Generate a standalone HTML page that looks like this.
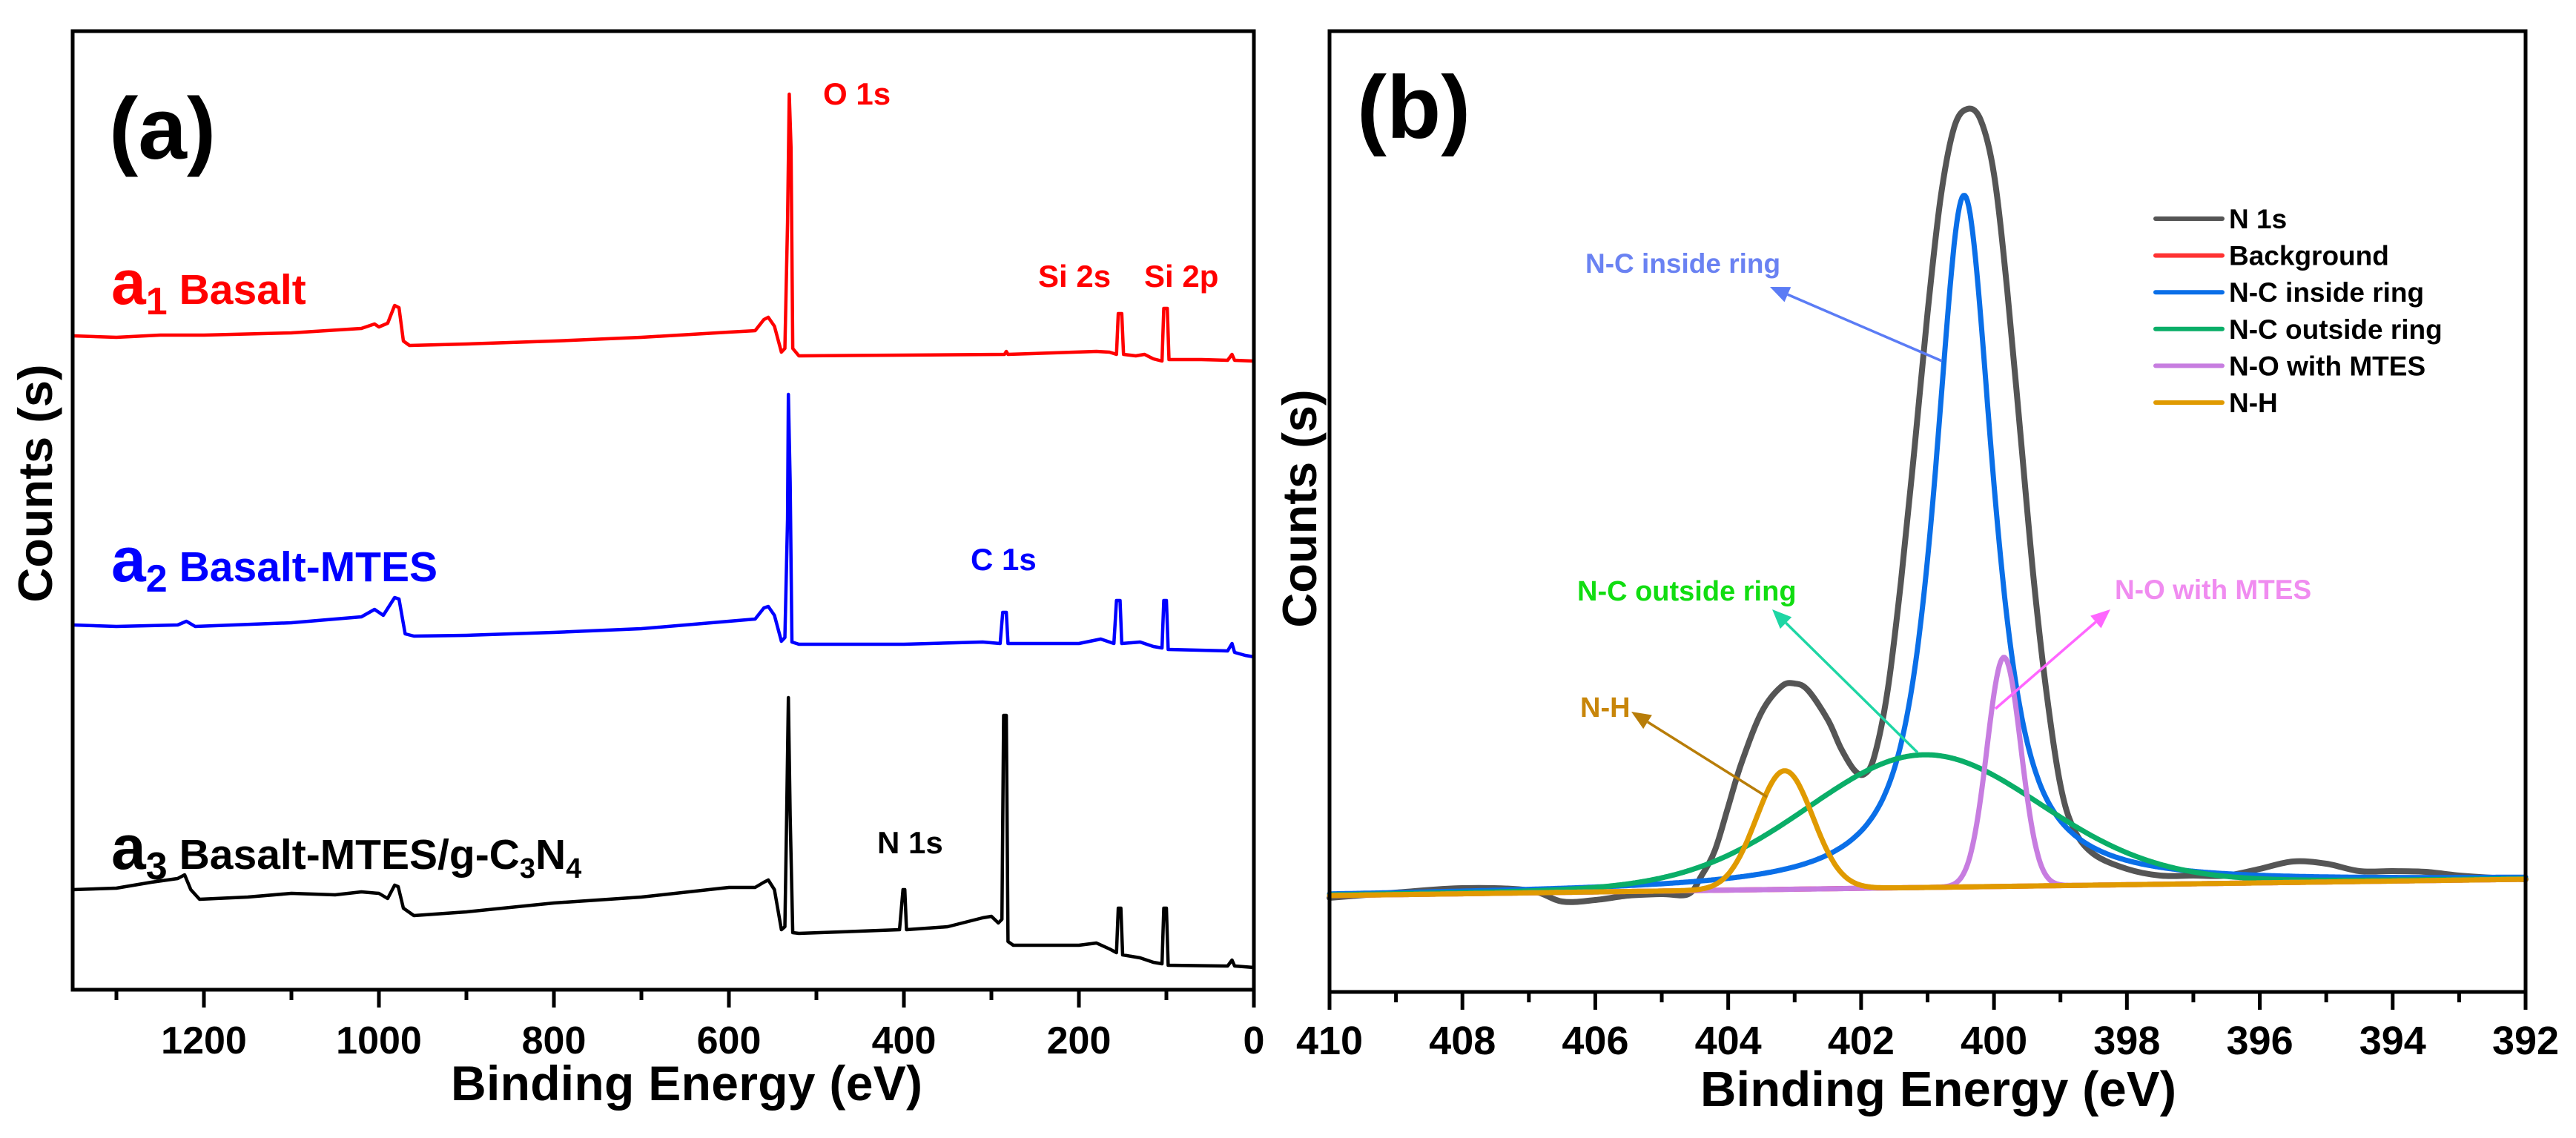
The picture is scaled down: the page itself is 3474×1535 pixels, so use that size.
<!DOCTYPE html>
<html><head><meta charset="utf-8"><style>
html,body{margin:0;padding:0;background:#fff;}
svg{display:block;font-family:"Liberation Sans",Arial,sans-serif;font-weight:bold;}
</style></head><body>
<svg id="fig" width="3474" height="1535" viewBox="0 0 3474 1535" xmlns="http://www.w3.org/2000/svg">
<g id="panelA"></g>
<g id="panelB"></g>
</svg>
<script>
// ---------- Panel (a) data: survey spectra, [binding energy eV, counts (a.u.)] ----------
const basaltEV = [1350,1300,1250,1200,1100,1020,1005,1000,990,982,977,972,965,900,800,700,600,570,560,555,548,540,536,533,531,529,527,520,400,285,283,281,180,165,157,155,151,149,135,125,115,105,103,99,97,60,30,25,22,0];
const basaltCounts = [882,880,883,883,886,892,898,894,899,923,920,875,869,871,875,880,887,889,904,907,895,860,865,1035,1208,1135,865,855,856,857,861,857,861,860,857,912,912,857,855,857,851,848,919,919,850,850,849,857,849,848];
const mtesEV = [1350,1300,1230,1220,1210,1100,1020,1005,995,982,977,970,960,900,800,700,600,570,560,555,548,540,536,533,532,530,528,520,400,310,290,287,283,281,200,175,160,157,153,151,130,115,105,103,100,98,30,25,22,10,0];
const mtesCounts = [492,490,492,497,490,495,503,513,505,529,527,480,477,478,482,487,497,500,515,517,505,470,475,635,803,685,469,466,466,469,467,509,509,467,467,473,467,525,525,467,469,463,461,525,525,459,457,467,455,451,449];
const gcnEV = [1350,1300,1260,1230,1222,1215,1205,1150,1100,1050,1020,1000,990,982,978,972,960,900,800,700,600,570,560,555,548,540,536,534,532,530,527,520,450,405,401,399,397,350,310,300,292,288,286,283,281,275,200,180,165,157,155,152,150,130,115,105,103,100,98,30,25,22,0];
const gcnCounts = [135,137,145,150,155,135,122,125,130,128,132,130,123,141,139,110,100,105,117,125,138,138,145,148,135,81,85,235,394,235,77,76,79,81,135,135,81,85,97,99,90,95,370,370,65,60,60,63,55,50,110,110,47,43,37,35,110,110,33,32,40,32,30];
const aMajorTicks = [1200,1000,800,600,400,200,0];
const aMinorTicks = [1300,1100,900,700,500,300,100];

// ---------- Panel (b) data: N 1s high resolution ----------
const n1sEV = [410,409,408,407,406.5,406,405.5,405,404.6,404.4,404.2,404,403.8,403.5,403.2,403,402.8,402.5,402.3,402.1,401.95,401.8,401.6,401.4,401.2,401,400.8,400.6,400.4,400.2,400,399.8,399.6,399.4,399.2,399,398.8,398.5,398,397.5,397,396.5,396,395.5,395,394.5,394,393.5,393,392.5,392];
const n1sCounts = [127,134,140,137,122,124,130,132,132,157,191,250,309,377,412,416,407,367,328,299,294,318,407,554,730,916,1073,1166,1191,1176,1103,946,750,554,397,279,220,186,166,157,157,157,166,176,173,163,163,162,157,154,152];
const bgEV = [410,392];
const bgCounts = [130,152];
const compNames = ["N-C inside ring","N-C outside ring","N-O with MTES","N-H"];
const compCenters = [400.45,401.05,399.85,403.15];
const compHeights = [933,179,309,160];
const compFWHM = [1.05,4.2,0.6,1.0];
const compLorentz = [0.8,0.1,0,0];
const bMajorTicks = [410,408,406,404,402,400,398,396,394,392];
const bMinorTicks = [409,407,405,403,401,399,397,395,393];

const NS = "http://www.w3.org/2000/svg";
function mk(parent, tag, attrs, text){
  const e = document.createElementNS(NS, tag);
  for (const k in attrs) e.setAttribute(k, attrs[k]);
  if (text !== undefined) e.textContent = text;
  parent.appendChild(e);
  return e;
}

// ---------- Panel (a) ----------
const A = {l:98, r:1691, t:42, b:1335, evMax:1350, evMin:0};
const ax = ev => A.r - (ev - A.evMin) * (A.r - A.l) / (A.evMax - A.evMin);
const ay = c => A.b - c;
const ga = document.getElementById('panelA');

function drawSeries(g, xs, ys, xf, yf, color, w, name, smooth){
  const pts = xs.map((x,i)=>[xf(x), yf(ys[i])]);
  let d = 'M' + pts[0][0].toFixed(1) + ',' + pts[0][1].toFixed(1);
  for (let i=1;i<pts.length;i++){
    if (smooth){
      const p0 = pts[Math.max(0,i-2)], p1 = pts[i-1], p2 = pts[i], p3 = pts[Math.min(pts.length-1,i+1)];
      const c1x = p1[0] + (p2[0]-p0[0])/6, c1y = p1[1] + (p2[1]-p0[1])/6;
      const c2x = p2[0] - (p3[0]-p1[0])/6, c2y = p2[1] - (p3[1]-p1[1])/6;
      d += `C${c1x.toFixed(1)},${c1y.toFixed(1)} ${c2x.toFixed(1)},${c2y.toFixed(1)} ${p2[0].toFixed(1)},${p2[1].toFixed(1)}`;
    } else {
      d += 'L' + pts[i][0].toFixed(1) + ',' + pts[i][1].toFixed(1);
    }
  }
  const p = mk(g,'path',{d:d, fill:'none', stroke:color, 'stroke-width':w, 'stroke-linejoin':'round', 'stroke-linecap':'round'});
  
  
  return p;
}
drawSeries(ga, basaltEV, basaltCounts, ax, ay, '#ff0000', 4.5, 'series-basalt');
drawSeries(ga, mtesEV, mtesCounts, ax, ay, '#0000ff', 4.5, 'series-basalt-mtes');
drawSeries(ga, gcnEV, gcnCounts, ax, ay, '#000000', 4.5, 'series-basalt-mtes-gcn');

const frameA = mk(ga,'rect',{x:A.l, y:A.t, width:A.r-A.l, height:A.b-A.t, fill:'none', stroke:'#000', 'stroke-width':5});


aMajorTicks.forEach(v=>{
  const t = mk(ga,'line',{x1:ax(v), x2:ax(v), y1:A.b, y2:A.b+24, stroke:'#000','stroke-width':5});
  
  
  const lb = mk(ga,'text',{x:ax(v), y:A.b+86, 'font-size':52, 'text-anchor':'middle', fill:'#000'}, String(v));
  
  
});
aMinorTicks.forEach(v=>{
  const t = mk(ga,'line',{x1:ax(v), x2:ax(v), y1:A.b, y2:A.b+14, stroke:'#000','stroke-width':5});
  
  
});

// ---------- Panel (b) ----------
const B = {l:1793, r:3406, t:42, b:1338, evMax:410, evMin:392};
const bx = ev => B.l + (B.evMax - ev) * (B.r - B.l) / (B.evMax - B.evMin);
const by = c => B.b - c;
const gb = document.getElementById('panelB');
function bgAt(ev){ const f=(bgEV[0]-ev)/(bgEV[0]-bgEV[1]); return bgCounts[0]+f*(bgCounts[1]-bgCounts[0]); }
function comp(i, ev){
  const w = compFWHM[i], dx = ev - compCenters[i];
  const g = Math.exp(-4*Math.LN2*dx*dx/(w*w));
  const l = 1/(1+4*dx*dx/(w*w));
  return bgAt(ev) + compHeights[i]*(compLorentz[i]*l + (1-compLorentz[i])*g);
}
const grid = [];
for (let e=410; e>=391.999; e-=0.02) grid.push(+e.toFixed(2));

drawSeries(gb, n1sEV, n1sCounts, bx, by, '#555555', 8, 'series-n1s', true);
drawSeries(gb, bgEV, bgCounts, bx, by, '#ff3333', 7, 'series-background');
const compColors = ['#0a6fe8','#0aae68','#c77de0','#e09a00'];
const compKeys = ['series-nc-inside-ring','series-nc-outside-ring','series-no-mtes','series-nh'];
compCenters.forEach((c,i)=>{
  drawSeries(gb, grid, grid.map(e=>comp(i,e)), bx, by, compColors[i], 7, compKeys[i]);
});

const frameB = mk(gb,'rect',{x:B.l, y:B.t, width:B.r-B.l, height:B.b-B.t, fill:'none', stroke:'#000', 'stroke-width':5});


bMajorTicks.forEach(v=>{
  const t = mk(gb,'line',{x1:bx(v), x2:bx(v), y1:B.b, y2:B.b+24, stroke:'#000','stroke-width':5});
  
  
  const lb = mk(gb,'text',{x:bx(v), y:B.b+84, 'font-size':54, 'text-anchor':'middle', fill:'#000'}, String(v));
  
  
});
bMinorTicks.forEach(v=>{
  const t = mk(gb,'line',{x1:bx(v), x2:bx(v), y1:B.b, y2:B.b+14, stroke:'#000','stroke-width':5});
  
  
});

// legend
const legNames = ['N 1s','Background','N-C inside ring','N-C outside ring','N-O with MTES','N-H'];
const legColors = ['#555555','#ff3333','#0a6fe8','#0aae68','#c77de0','#e09a00'];
legNames.forEach((n,i)=>{
  const y = 295 + i*49.6;
  const ln = mk(gb,'line',{x1:2907, x2:2997, y1:y, y2:y, stroke:legColors[i], 'stroke-width':6, 'stroke-linecap':'round'});
  
  
  const tx = mk(gb,'text',{x:3006, y:y+13, 'font-size':37, fill:'#000'}, n);
  
  
});

// annotation arrows
function arrow(x1,y1,x2,y2,color,name){
  const g = mk(gb,'g',{});
  
  
  const ang = Math.atan2(y2-y1, x2-x1);
  const hl = 26, hw = 11;
  const bxp = x2 - hl*Math.cos(ang), byp = y2 - hl*Math.sin(ang);
  mk(g,'line',{x1:x1,y1:y1,x2:bxp,y2:byp,stroke:color,'stroke-width':3.5});
  const px = -Math.sin(ang)*hw, py = Math.cos(ang)*hw;
  mk(g,'path',{d:`M${x2},${y2} L${bxp+px},${byp+py} L${bxp-px},${byp-py} Z`, fill:color});
}
arrow(2619,487,2387,387,'#5b7cf5','arrow-nc-inside');
arrow(2586,1015,2390,822,'#1ed6a4','arrow-nc-outside');
arrow(2691,956,2846,822,'#ff66ff','arrow-no-mtes');
arrow(2383,1075,2200,960,'#b87d08','arrow-nh');
</script>

<svg width="3474" height="1535" viewBox="0 0 3474 1535" style="position:absolute;left:0;top:0;font-family:'Liberation Sans',Arial,sans-serif;font-weight:bold;" xmlns="http://www.w3.org/2000/svg">
  <text x="147" y="214" font-size="118" fill="#000">(a)</text>
  <text x="1830" y="186" font-size="120" fill="#000">(b)</text>

  <text x="1110" y="141" font-size="42" fill="#ff0000">O 1s</text>
  <text x="1400" y="387" font-size="42" fill="#ff0000">Si 2s</text>
  <text x="1543" y="387" font-size="42" fill="#ff0000">Si 2p</text>
  <text x="1309" y="769" font-size="42" fill="#0000ff">C 1s</text>
  <text x="1183" y="1151" font-size="42" fill="#000">N 1s</text>

  <text x="150" y="410" fill="#ff0000"><tspan font-size="84">a</tspan><tspan font-size="52" dy="14">1</tspan><tspan font-size="57" dy="-14" dx="16">Basalt</tspan></text>
  <text x="150" y="784" fill="#0000ff"><tspan font-size="84">a</tspan><tspan font-size="52" dy="14">2</tspan><tspan font-size="57" dy="-14" dx="16">Basalt-MTES</tspan></text>
  <text x="150" y="1172" fill="#000"><tspan font-size="84">a</tspan><tspan font-size="52" dy="14">3</tspan><tspan font-size="57" dy="-14" dx="16">Basalt-MTES/g-C</tspan><tspan font-size="38" dy="12">3</tspan><tspan font-size="57" dy="-12">N</tspan><tspan font-size="38" dy="12">4</tspan></text>

  <text x="926" y="1484" font-size="66" text-anchor="middle" fill="#000" textLength="636">Binding Energy (eV)</text>
  <text x="2614" y="1492" font-size="67" text-anchor="middle" fill="#000" textLength="642">Binding Energy (eV)</text>
  <text transform="translate(70,652) rotate(-90)" font-size="65" text-anchor="middle" fill="#000">Counts (s)</text>
  <text transform="translate(1775,686) rotate(-90)" font-size="65" text-anchor="middle" fill="#000">Counts (s)</text>

  <text x="2138" y="368" font-size="37" fill="#6a82f2">N-C inside ring</text>
  <text x="2127" y="810" font-size="38" fill="#11dd11">N-C outside ring</text>
  <text x="2852" y="808" font-size="37" fill="#f08cf0">N-O with MTES</text>
  <text x="2131" y="967" font-size="38" fill="#c8860a">N-H</text>
</svg>
</body></html>
